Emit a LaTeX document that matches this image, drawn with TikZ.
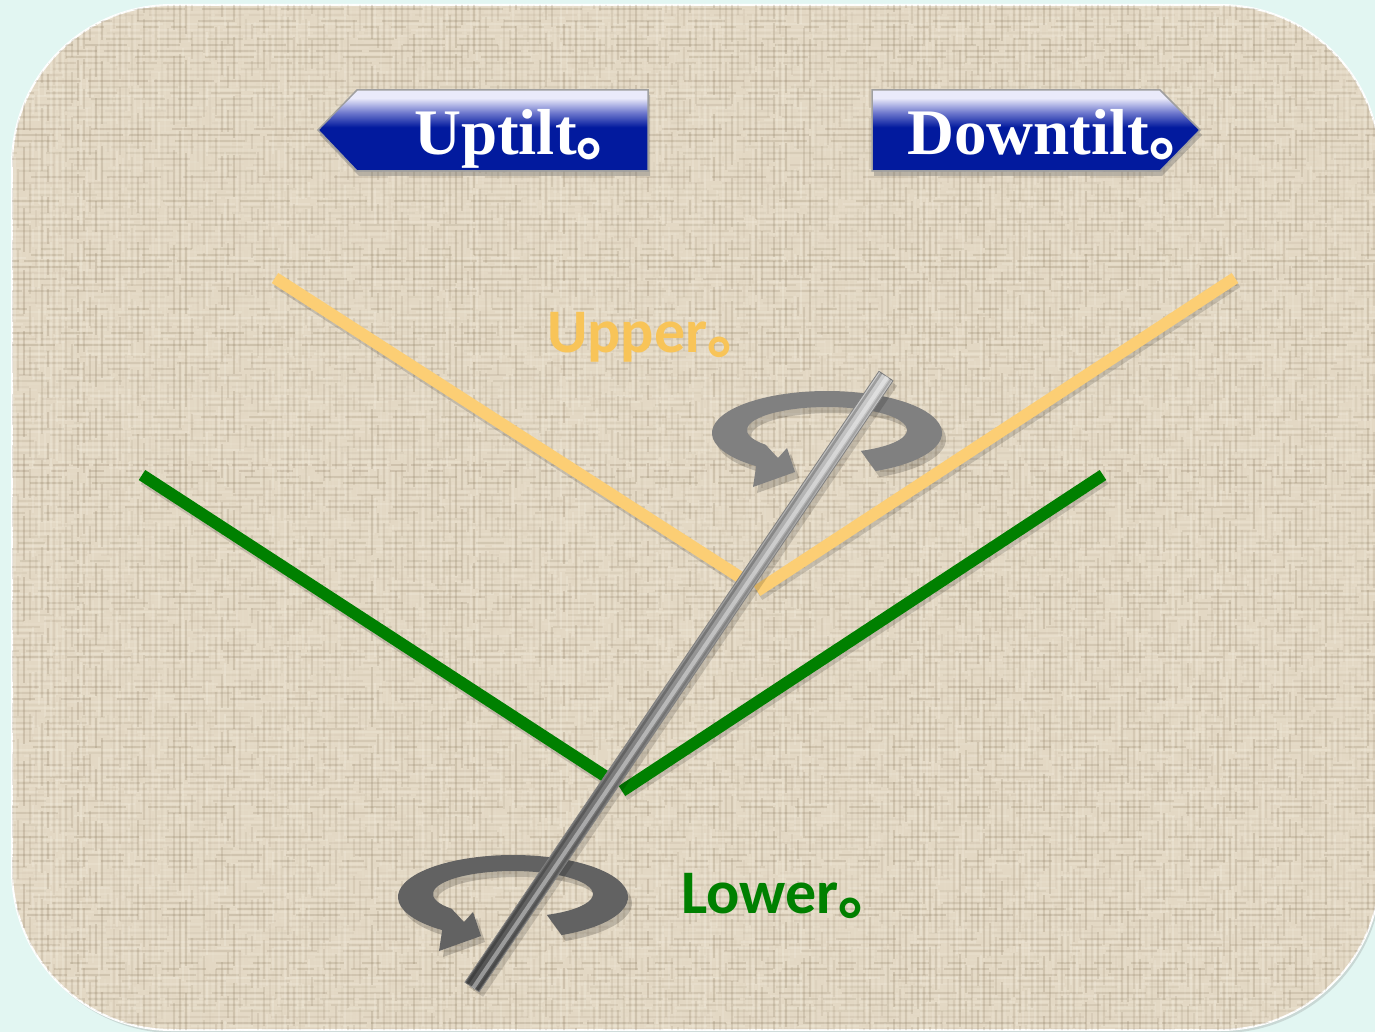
\documentclass[tikz,border=0pt]{standalone}
\usepackage{fontspec}
\setmainfont{Liberation Serif}
\newfontfamily\labelfont{Carlito}
\newfontfamily\cjk{Noto Sans CJK SC}
\usetikzlibrary{calc,shadows}

\definecolor{pagecyan}{RGB}{226,246,242}
\definecolor{linen}{RGB}{227,216,196}
\definecolor{threadlight}{RGB}{250,246,234}
\definecolor{threaddark}{RGB}{140,124,98}
\definecolor{upperline}{RGB}{252,206,116}
\definecolor{uppertext}{RGB}{248,196,88}
\definecolor{lowergreen}{RGB}{0,128,0}
\definecolor{ringgray}{RGB}{128,128,128}
\definecolor{ringdark}{RGB}{98,98,98}
\definecolor{barnavy}{RGB}{2,26,158}
\definecolor{barmid}{RGB}{110,120,205}
\definecolor{barlav}{RGB}{234,234,250}
\definecolor{poletop}{RGB}{205,205,205}
\definecolor{polebottom}{RGB}{80,80,80}

% vertical fill of the two tilt banners: lavender on top, deep blue below
\pgfdeclareverticalshading{tiltbar}{100bp}{color(0bp)=(barnavy); color(52bp)=(barnavy); color(61bp)=(barmid); color(70bp)=(barlav); color(100bp)=(barlav)}

% outline of a turning arrow, centred on the origin
\newcommand\turnpath{(48.6,38.07)
  arc[start angle=65, end angle=-232, x radius=115, y radius=42]
  -- (-74,54) -- (-32,39) -- (-40,15) -- (-49,25) -- (-61.3,11.8)
  arc[start angle=140, end angle=425, x radius=80, y radius=23]
  -- cycle}

\tikzset{
  tiltbox/.style={shade, shading=tiltbar, draw=gray!75, line width=1.5pt,
    drop shadow={shadow xshift=2pt, shadow yshift=-5pt, opacity=.35, fill=black!60}},
  tilttext/.style={text=white, font=\bfseries\fontsize{65}{65}\selectfont,
    inner sep=0pt, anchor=base west},
  armtext/.style={font=\labelfont\bfseries\fontsize{62}{62}\selectfont,
    inner sep=0pt, anchor=base west},
  armline/.style={line width=12pt},
  armshade/.style={line width=12pt, black, opacity=.14},
  turn/.pic={
    \begin{scope}[shift={(4,6)}]
      \fill[black, opacity=.18] \turnpath;
    \end{scope}
    \fill[pic actions] \turnpath;
  }
}

\begin{document}
\begin{tikzpicture}[x=1pt,y=-1pt]
\useasboundingbox (0,0) rectangle (1375,1032);
\fill[pagecyan] (0,0) rectangle (1375,1032);

% linen panel
\path[fill=linen, draw=white, line width=2pt, rounded corners=160pt,
  drop shadow={shadow xshift=2pt, shadow yshift=-3pt, opacity=.25}]
  (12,5) rectangle (1380,1030);

% woven texture
\begin{scope}
  \clip[rounded corners=160pt] (12,5) rectangle (1380,1030);
  \pgfmathsetseed{1375}
  \foreach \k in {0,...,343}{
    \pgfmathsetmacro{\op}{0.05+0.20*rnd}
    \pgfmathsetmacro{\dn}{15+60*rnd}
    \pgfmathsetmacro{\df}{4+25*rnd}
    \pgfmathsetmacro{\ph}{80*rnd}
    \ifodd\k \def\thr{threaddark}\else\def\thr{threadlight}\fi
    \draw[\thr, opacity=\op, line width=1.2pt, dash pattern=on \dn pt off \df pt,
      dash phase=\ph pt] (12,3*\k) -- (1380,3*\k);
  }
  \foreach \k in {0,...,458}{
    \pgfmathsetmacro{\op}{0.05+0.20*rnd}
    \pgfmathsetmacro{\dn}{15+60*rnd}
    \pgfmathsetmacro{\df}{4+25*rnd}
    \pgfmathsetmacro{\ph}{80*rnd}
    \ifodd\k \def\thr{threadlight}\else\def\thr{threaddark}\fi
    \draw[\thr, opacity=\op, line width=1.2pt, dash pattern=on \dn pt off \df pt,
      dash phase=\ph pt] (12+3*\k,0) -- (12+3*\k,1032);
  }
\end{scope}

% banners
\shade[tiltbox] (318,130) -- (357,90) -- (648,90) -- (648,171) -- (357,171) -- cycle;
\shade[tiltbox] (872,90) -- (1160,90) -- (1200,130) -- (1160,171) -- (872,171) -- cycle;
\node[tilttext] (uptilt) at (414,155) {Uptilt{\cjk 。}};
\node[tilttext] (downtilt) at (907,155) {Downtilt{\cjk 。}};

% upper and lower beam edges
\coordinate (ul1) at (275,278);
\coordinate (ul2) at (746,581);
\coordinate (ur1) at (757,591);
\coordinate (ur2) at (1235,278);
\coordinate (ll1) at (142,475);
\coordinate (ll2) at (611,780);
\coordinate (lr1) at (622,791);
\coordinate (lr2) at (1103,475);
\foreach \a/\b in {ul1/ul2, ur1/ur2, ll1/ll2, lr1/lr2}
  \draw[armshade] ($(\a)+(2,4)$) -- ($(\b)+(2,4)$);
\draw[armline, upperline] (ul1) -- (ul2);
\draw[armline, upperline] (ur1) -- (ur2);
\draw[armline, lowergreen] (ll1) -- (ll2);
\draw[armline, lowergreen] (lr1) -- (lr2);

% turning arrows
\pic[fill=ringgray] at (827,433) {turn};
\pic[fill=ringdark] at (513,897) {turn};

% antenna pole
\coordinate (poletop) at (886,376);
\coordinate (polebot) at (472,987);
\fill[black, opacity=.15]
  ($(poletop)!8.5pt!90:(polebot)+(4,5)$) -- ($(poletop)!8.5pt!-90:(polebot)+(4,5)$)
  -- ($(polebot)!8.5pt!90:(poletop)+(4,5)$) -- ($(polebot)!8.5pt!-90:(poletop)+(4,5)$) -- cycle;
\shade[top color=poletop, bottom color=polebottom, draw=black!50, line width=.8pt]
  ($(poletop)!8.5pt!90:(polebot)$) -- ($(poletop)!8.5pt!-90:(polebot)$)
  -- ($(polebot)!8.5pt!90:(poletop)$) -- ($(polebot)!8.5pt!-90:(poletop)$) -- cycle;
\draw[white, opacity=.4, line width=4pt]
  ($(poletop)!1.5pt!90:(polebot)$) -- ($(polebot)!1.5pt!-90:(poletop)$);
\draw[black, opacity=.22, line width=2.5pt]
  ($(poletop)!5.5pt!-90:(polebot)$) -- ($(polebot)!5.5pt!90:(poletop)$);
\draw[black, opacity=.15, line width=2pt]
  ($(poletop)!6pt!90:(polebot)$) -- ($(polebot)!6pt!-90:(poletop)$);

% beam labels
\node[armtext, text=uppertext] (upper) at (547,352) {Upper{\cjk 。}};
\node[armtext, text=lowergreen] (lower) at (681,913) {Lower{\cjk 。}};
\end{tikzpicture}
\end{document}
